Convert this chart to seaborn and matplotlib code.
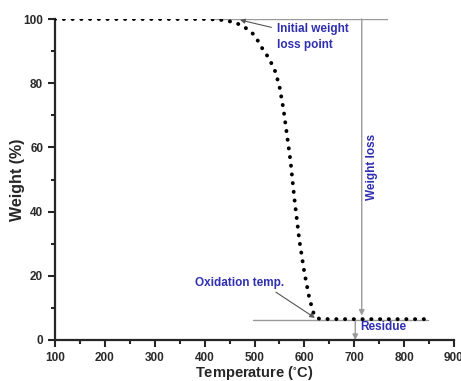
import numpy as np
import pandas as pd
import matplotlib
matplotlib.use('Agg')
import matplotlib.pyplot as plt
import seaborn as sns
from matplotlib.ticker import MultipleLocator

# TGA curve
temperature = [100, 200, 300, 400, 430, 460, 480, 500, 515, 530, 542, 550, 558,
               565, 572, 580, 590, 600, 610, 620, 630, 650, 700, 750, 800, 850]
weight = [100, 100, 100, 100, 99.8, 99.0, 97.5, 95.0, 91.0, 87.5, 83.5, 79.0, 72.0,
          64.0, 56.0, 44.0, 31.0, 21.0, 13.0, 7.5, 6.6, 6.5, 6.5, 6.5, 6.5, 6.5]

x_ticks = [100, 200, 300, 400, 500, 600, 700, 800, 900]
y_ticks = [0, 20, 40, 60, 80, 100]

# annotation anchors (data units)
initial_loss = (471, 99.7)
oxidation = (621, 6.9)
residue_level = 6.2
loss_x = 715
residue_x = 702

blue = '#2f2fb0'
grey = '#9a9a9a'

sns.set_style('ticks')
plt.rcParams['font.family'] = ['Liberation Sans', 'DejaVu Sans']

df = pd.DataFrame({'Temperature': temperature, 'Weight': weight})

fig = plt.figure(figsize=(4.61, 3.81), dpi=100)
ax = fig.add_axes([55 / 461, 41 / 381, 399 / 461, 321 / 381])

# reference lines behind the curve
ax.plot([420, 766], [100, 100], color=grey, lw=1, zorder=1)
ax.plot([496, 848], [residue_level, residue_level], color=grey, lw=1, zorder=1)

sns.lineplot(data=df, x='Temperature', y='Weight', ax=ax, color='black',
             lw=2.8, zorder=3)
ln = ax.lines[-1]
ln.set_linestyle((0, (0.05, 2.2)))
ln.set_dash_capstyle('round')

# weight loss arrow
ax.annotate('', xy=(loss_x, 7.6), xytext=(loss_x, 100),
            arrowprops=dict(arrowstyle='-|>', color=grey, lw=1,
                            mutation_scale=8, shrinkA=0, shrinkB=0), zorder=2)
ax.text(loss_x + 8, 54, 'Weight loss', rotation=90, color=blue, fontsize=8.5,
        fontweight='bold', ha='left', va='center')

# residue arrow
ax.annotate('', xy=(residue_x, 0), xytext=(residue_x, residue_level),
            arrowprops=dict(arrowstyle='-|>', color=grey, lw=1,
                            mutation_scale=8, shrinkA=0, shrinkB=0), zorder=2)
ax.text(712, 4.0, 'Residue', color=blue, fontsize=8.5, fontweight='bold',
        ha='left', va='center')

# initial weight loss point
ax.annotate('Initial weight\nloss point', xy=initial_loss, xytext=(546, 94.3),
            color=blue, fontsize=8.5, fontweight='bold', ha='left', va='center',
            linespacing=1.4,
            arrowprops=dict(arrowstyle='-|>', color='#555555', lw=0.8,
                            mutation_scale=7, shrinkA=2, shrinkB=0))

# oxidation temperature
ax.annotate('Oxidation temp.', xy=oxidation, xytext=(381, 17.8),
            color=blue, fontsize=8.5, fontweight='bold', ha='left', va='center',
            arrowprops=dict(arrowstyle='-|>', color='#555555', lw=0.8,
                            mutation_scale=7, shrinkA=0, shrinkB=0,
                            relpos=(0.85, 0)))

ax.set_xlim(100, 900)
ax.set_ylim(0, 100)
ax.set_xticks(x_ticks)
ax.set_yticks(y_ticks)
ax.xaxis.set_minor_locator(MultipleLocator(50))
ax.yaxis.set_minor_locator(MultipleLocator(10))
ax.tick_params(which='major', length=5, width=1.5, labelsize=8.5)
ax.tick_params(which='minor', length=3, width=1.5)
for lab in ax.get_xticklabels() + ax.get_yticklabels():
    lab.set_fontweight('bold')
    lab.set_color('#2a2a2a')

for side in ['left', 'bottom']:
    ax.spines[side].set_linewidth(1.6)
sns.despine(ax=ax)

ax.set_xlabel('Temperature ($\\mathregular{^{\\circ}}$C)', fontsize=10.5,
              fontweight='bold', labelpad=0)
ax.set_ylabel('Weight (%)', fontsize=11.5, fontweight='bold', va='center')
ax.yaxis.set_label_coords(-0.095, 0.5)

fig.savefig('out.png', dpi=100)
